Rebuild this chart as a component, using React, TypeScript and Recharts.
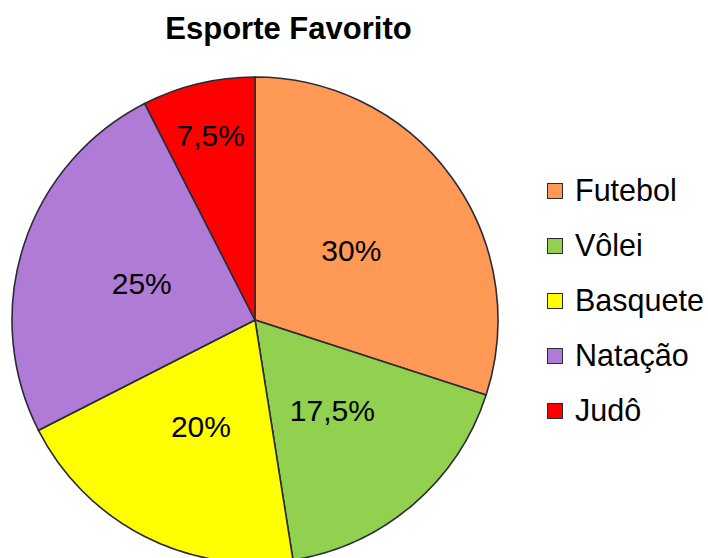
import { PieChart, Pie, Cell, Legend } from 'recharts';

const sports = ['Futebol', 'Vôlei', 'Basquete', 'Natação', 'Judô'];
const shares = [30, 17.5, 20, 25, 7.5];
const colors = ['#FF9955', '#92D050', '#FFFF00', '#AF7BD6', '#FF0000'];

const data = sports.map((name, i) => ({ name, value: shares[i] }));

const RADIAN = Math.PI / 180;
const FONT = '"Liberation Sans", Arial, sans-serif';

const renderLabel = (props: any) => {
  const { cx, cy, midAngle, outerRadius, percent, value } = props;
  // thin slices get their label pushed out, like Excel's best fit
  const r = percent < 0.1 ? outerRadius * 0.78 : outerRadius * 0.49;
  const x = cx + r * Math.cos(-midAngle * RADIAN);
  const y = cy + r * Math.sin(-midAngle * RADIAN);
  return (
    <text
      x={x}
      y={y}
      fill="#000"
      fontSize={30}
      fontFamily={FONT}
      textAnchor="middle"
      dominantBaseline="central"
    >
      {String(value).replace('.', ',') + '%'}
    </text>
  );
};

const renderLegend = () => (
  <div style={{ fontFamily: FONT, fontSize: 30.5, color: '#000' }}>
    {sports.map((name, i) => (
      <div key={name} style={{ display: 'flex', alignItems: 'center', height: 55 }}>
        <span
          style={{
            display: 'inline-block',
            width: 14,
            height: 14,
            background: colors[i],
            border: '1.5px solid #2b2b36',
            marginRight: 12,
          }}
        />
        <span>{name}</span>
      </div>
    ))}
  </div>
);

const App = () => {
  return (
    <div style={{ position: 'absolute', left: 0, top: 0, width: 708, height: 558, background: '#fff', overflow: 'hidden' }}>
      <div
        style={{
          position: 'absolute',
          left: 0,
          width: 577,
          top: 11,
          textAlign: 'center',
          fontFamily: FONT,
          fontWeight: 'bold',
          fontSize: 31,
          lineHeight: '36px',
          color: '#000',
        }}
      >
        Esporte Favorito
      </div>
      <PieChart width={708} height={558} margin={{ top: 0, right: 0, bottom: 0, left: 0 }}>
        <Pie
          data={data}
          dataKey="value"
          nameKey="name"
          cx={255}
          cy={320}
          outerRadius={243}
          startAngle={90}
          endAngle={-270}
          stroke="#2b2b36"
          strokeWidth={1.6}
          label={renderLabel}
          labelLine={false}
          isAnimationActive={false}
        >
          {data.map((d, i) => (
            <Cell key={d.name} fill={colors[i]} />
          ))}
        </Pie>
        <Legend
          content={renderLegend}
          wrapperStyle={{ position: 'absolute', left: 547, top: 163, width: 161 }}
        />
      </PieChart>
    </div>
  );
};

export default App;
